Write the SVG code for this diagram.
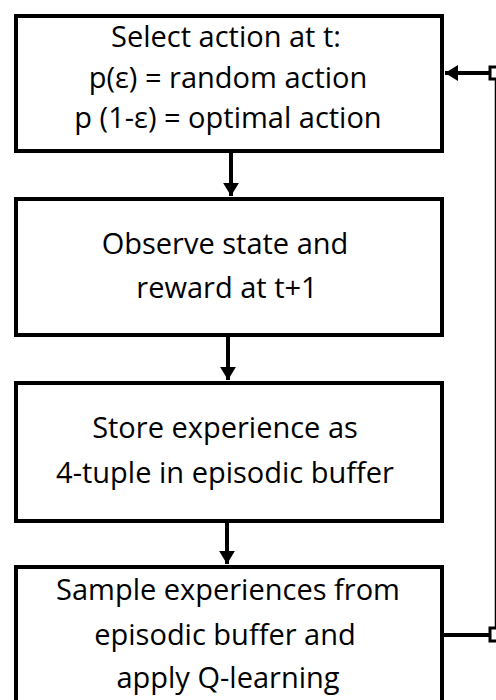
<svg xmlns="http://www.w3.org/2000/svg" width="496" height="700" viewBox="0 0 496 700">
<style>
.box{fill:#fff;stroke:#000;stroke-width:4}
.lbl{font-family:"Open Sans",Lato,sans-serif;font-size:29px;fill:#000;text-anchor:middle}
.con{fill:none;stroke:#000;stroke-width:4}
</style>
<defs>
<marker id="ah" markerWidth="4.2" markerHeight="4" refX="3.3" refY="2" orient="auto" markerUnits="strokeWidth">
<path d="M0,0 L3.3,2 L0,4 Z" fill="#000"/>
</marker>
</defs>
<rect width="496" height="700" fill="#fff"/>
<g id="connectors">
<line class="con" x1="231" y1="153" x2="231" y2="196" marker-end="url(#ah)"/>
<line class="con" x1="228" y1="337" x2="228" y2="380" marker-end="url(#ah)"/>
<line class="con" x1="227" y1="523" x2="227" y2="564" marker-end="url(#ah)"/>
<line class="con" x1="444" y1="635" x2="489" y2="635"/>
<line x1="495.5" y1="78" x2="495.5" y2="630" stroke="#000" stroke-width="1.5"/>
<rect x="490" y="628" width="10" height="13" fill="#fff" stroke="#000" stroke-width="3"/>
<rect x="490" y="67" width="10" height="12" fill="#fff" stroke="#000" stroke-width="3"/>
<line class="con" x1="490" y1="73" x2="445" y2="73" marker-end="url(#ah)"/>
</g>
<g id="n1">
<rect class="box" x="16" y="16" width="426" height="135"/>
<text class="lbl" x="226" y="47">Select action at t:</text>
<text class="lbl" x="228" y="88">p(ε) = random action</text>
<text class="lbl" x="228" y="128">p (1-ε) = optimal action</text>
</g>
<g id="n2">
<rect class="box" x="16" y="199" width="426" height="136"/>
<text class="lbl" x="225" y="254">Observe state and</text>
<text class="lbl" x="227" y="298">reward at t+1</text>
</g>
<g id="n3">
<rect class="box" x="16" y="383" width="426" height="138"/>
<text class="lbl" x="225" y="438">Store experience as</text>
<text class="lbl" x="225" y="483">4-tuple in episodic buffer</text>
</g>
<g id="n4">
<rect class="box" x="16" y="567" width="426" height="140"/>
<text class="lbl" x="228" y="600">Sample experiences from</text>
<text class="lbl" x="225" y="645">episodic buffer and</text>
<text class="lbl" x="228" y="688">apply Q-learning</text>
</g>
</svg>
